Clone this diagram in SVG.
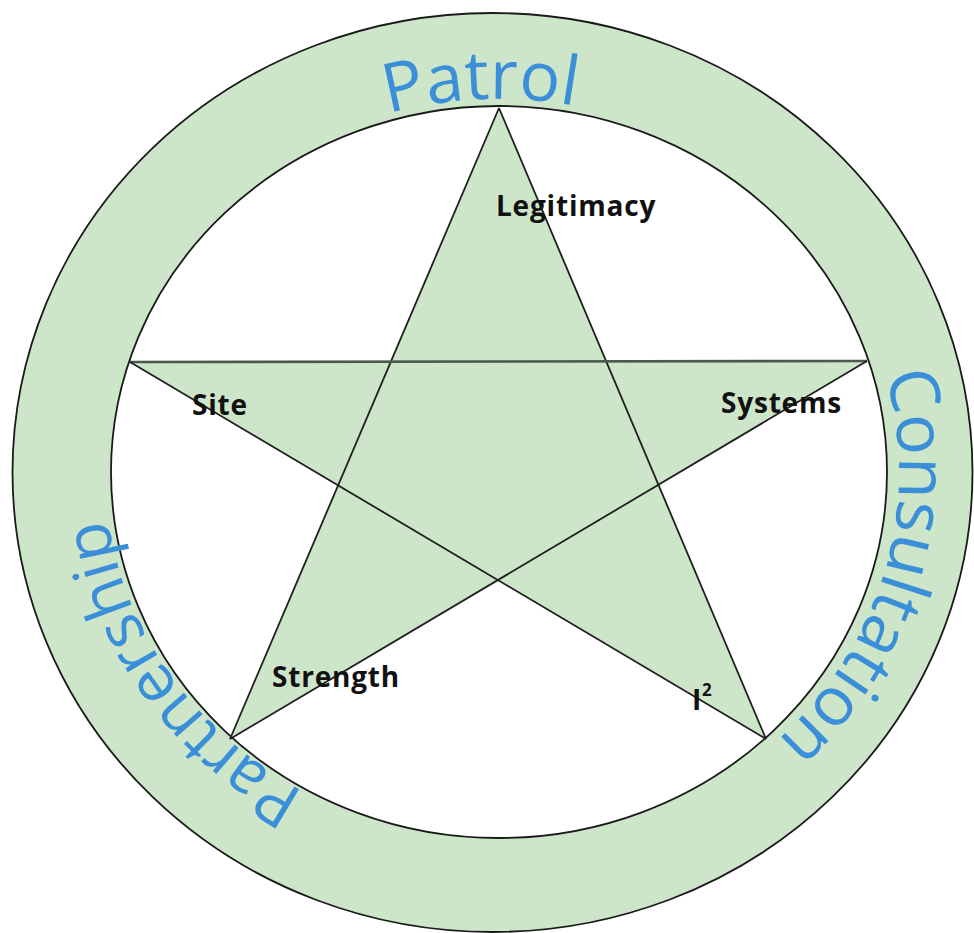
<svg xmlns="http://www.w3.org/2000/svg" xmlns:xlink="http://www.w3.org/1999/xlink" width="974" height="933" viewBox="0 0 974 933">
  <style>
    .ring { fill: #cde6c9; fill-rule: evenodd; stroke: none; }
    .edge { fill: none; stroke: #1a1a1a; stroke-width: 1.8; }
    .star { fill: #cde6c9; fill-rule: nonzero; stroke: none; }
    .line { stroke: #1f1f1f; stroke-width: 1.8; fill: none; }
    .ringtext { font-family: "Open Sans", "Noto Sans", sans-serif; font-size: 68px; fill: #3b8fd9; }
    .label { font-family: "Open Sans", "Noto Sans", sans-serif; font-weight: bold; font-size: 28px; fill: #111; letter-spacing: 0.8px; }
  </style>
  <defs>
    <path id="arcPatrol" d="M102.2,424.6 A400,373 0 0 1 889.2,390.0"/>
    <path id="arcConsult" d="M666.2,133.1 A400,373 0 0 1 466.2,843.7"/>
    <path id="arcPartner" d="M713.3,786.9 A400,373 0 0 1 284.7,157.1"/>
  </defs>
  <rect x="0" y="0" width="974" height="933" fill="#ffffff"/>

  <g id="ring">
    <path class="ring" d="M12.5,472.5 A480,459.5 0 1 1 972.5,472.5 A480,459.5 0 1 1 12.5,472.5 Z M111,472 A388,366 0 1 0 887,472 A388,366 0 1 0 111,472 Z"/>
    <ellipse class="edge" cx="492.5" cy="472.5" rx="480" ry="459.5"/>
    <ellipse class="edge" cx="499" cy="472" rx="388" ry="366"/>
  </g>

  <g id="star">
    <path class="star" d="M499,108 L230,739 L867,361 L130,362 L766,739 Z"/>
  </g>

  <g id="connectors">
    <line class="line" x1="499" y1="108" x2="230" y2="739"/>
    <line class="line" x1="499" y1="108" x2="766" y2="739"/>
    <line x1="130" y1="362" x2="867" y2="361" stroke="#4a5a4a" stroke-width="2.6"/>
    <line class="line" x1="130" y1="362" x2="766" y2="739"/>
    <line class="line" x1="867" y1="361" x2="230" y2="739"/>
  </g>

  <g id="patrol">
    <text class="ringtext"><textPath xlink:href="#arcPatrol" href="#arcPatrol" startOffset="50%" text-anchor="middle">Patrol</textPath></text>
  </g>
  <g id="consultation">
    <text class="ringtext"><textPath xlink:href="#arcConsult" href="#arcConsult" startOffset="50%" text-anchor="middle">Consultation</textPath></text>
  </g>
  <g id="partnership">
    <text class="ringtext" font-size="64" style="font-size:64px"><textPath xlink:href="#arcPartner" href="#arcPartner" startOffset="50%" text-anchor="middle">Partnership</textPath></text>
  </g>

  <g id="legitimacy"><text class="label" x="496" y="216">Legitimacy</text></g>
  <g id="site"><text class="label" x="192" y="415">Site</text></g>
  <g id="systems"><text class="label" x="721" y="413">Systems</text></g>
  <g id="strength"><text class="label" x="272" y="687">Strength</text></g>
  <g id="i2"><text class="label" x="692" y="710">I<tspan font-size="17" dy="-14">2</tspan></text></g>
</svg>
